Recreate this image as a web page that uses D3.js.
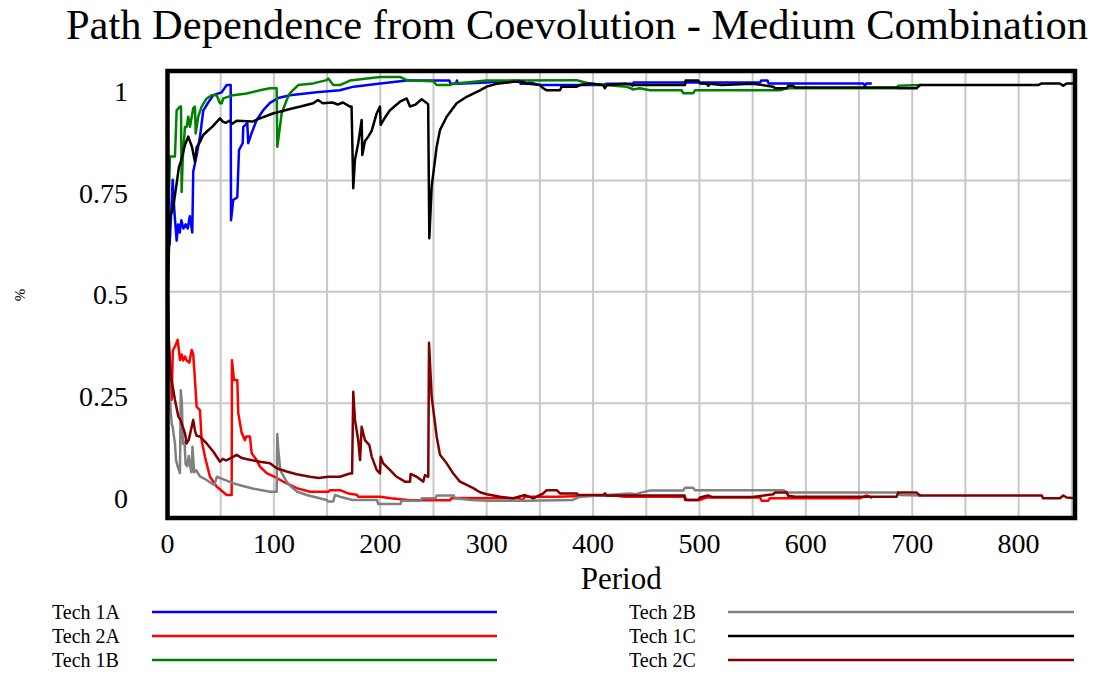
<!DOCTYPE html>
<html>
<head>
<meta charset="utf-8">
<script src="https://cdn.jsdelivr.net/npm/d3@7"></script>
<style>
  html, body { margin: 0; padding: 0; background: #fff; }
  svg { display: block; font-family: "Liberation Serif", "Times New Roman", serif; }
</style>
</head>
<body>
<svg id="chart" width="1094" height="677"></svg>
<script>
// Share of each technology per period, as [period, share] pairs.
const tech1A = [[0,0.50],[1,0.69],[2,0.62],[3.5,0.70],[4.9,0.78],[6.5,0.70],[8.6,0.63],[10,0.67],[11.5,0.65],[13,0.68],[15,0.66],[17,0.67],[19,0.66],[21,0.69],[23.3,0.65],[24.2,0.80],[27.4,0.84],[30.5,0.885],[33.6,0.95],[38.3,0.97],[43,0.988],[50.9,0.995],[55.6,1.013],[59.4,1.013],[59.7,0.68],[61.8,0.73],[65.6,0.737],[67.2,0.853],[70.7,0.87],[71.2,0.91],[75,0.919],[75.9,0.87],[79.1,0.895],[83.8,0.927],[90,0.951],[96.3,0.969],[104.1,0.981],[115.1,0.988],[140,0.995],[162,1.0],[175,1.009],[200,1.017],[225,1.024],[265,1.024],[266,1.016],[271,1.016],[272,1.024],[273,1.016],[300,1.019],[330,1.024],[332,1.016],[338,1.016],[340,1.019],[350,1.013],[410,1.013],[412,1.016],[436,1.016],[437,1.011],[438,1.019],[557,1.019],[558,1.024],[564,1.024],[565,1.017],[654,1.017],[655.5,1.011],[657,1.017],[662,1.017]];
const tech2A = [[0,0.50],[0.5,0.40],[1.5,0.33],[3.9,0.238],[5,0.36],[7,0.369],[9.6,0.386],[11.7,0.336],[13.3,0.35],[14.8,0.335],[16.5,0.345],[18,0.335],[20.5,0.33],[22.7,0.361],[24.2,0.35],[25.8,0.287],[27.4,0.221],[30.5,0.213],[32.1,0.139],[35.2,0.098],[39.9,0.049],[46.2,0.025],[55.6,0.004],[60.3,0.004],[60.6,0.336],[62.5,0.287],[65.6,0.287],[66.5,0.206],[69.7,0.157],[72.8,0.139],[74,0.148],[77.5,0.148],[79.1,0.107],[83.8,0.09],[86.9,0.074],[93.2,0.058],[102.6,0.046],[108.8,0.037],[121.4,0.021],[133.9,0.012],[151.1,0.012],[152.7,0.016],[162.1,0.016],[171,0.007],[177.8,0.005],[179.3,0.0],[199.7,0.0],[210,-0.004],[228,-0.009],[265.5,-0.009],[267.1,-0.003],[300,-0.004],[331,-0.004],[333,-0.01],[336,0.0],[365,0.0],[400,0.002],[420,0.003],[430,0.0],[486,0.0],[488,-0.008],[500.5,-0.008],[506.8,-0.002],[556.9,-0.002],[558.5,-0.01],[564.7,-0.01],[566,-0.004],[650.8,-0.004],[657.1,0.003],[662.4,-0.003]];
const tech1B = [[0,0.50],[0.8,0.693],[2.3,0.837],[7,0.837],[8.6,0.951],[11.7,0.96],[12.7,0.96],[13.3,0.75],[14.3,0.83],[16.4,0.91],[18,0.91],[19.5,0.935],[21.1,0.91],[24.2,0.956],[25.8,0.96],[26.5,0.894],[28.9,0.935],[32.1,0.96],[36.8,0.98],[41.5,0.988],[46.2,0.988],[49.3,0.968],[51,0.968],[52.4,0.98],[61.8,0.988],[74.4,0.992],[86.9,1.0],[96.3,1.005],[102.6,1.005],[103.2,0.861],[105.7,0.91],[107.3,0.943],[112,0.976],[115.1,0.993],[122.9,1.013],[137,1.017],[149.6,1.025],[151.1,1.029],[155.8,1.013],[162,1.013],[171.5,1.024],[199.7,1.033],[218.5,1.033],[224.8,1.025],[249.8,1.022],[253,1.013],[265.5,1.013],[268,1.016],[300,1.024],[384.6,1.025],[390,1.021],[397.1,1.016],[431.6,1.009],[437.8,1.002],[444,1.005],[453.5,1.0],[483.3,1.0],[484.8,0.993],[494.2,0.993],[495.8,1.0],[575.7,1.0],[582,1.005],[685.3,1.005],[686.9,1.011],[708.8,1.013]];
const tech2B = [[0,0.50],[0.5,0.33],[2,0.25],[3.9,0.18],[5,0.17],[7,0.13],[8,0.09],[9.5,0.075],[11.7,0.058],[12.5,0.262],[13.5,0.23],[14.5,0.13],[16,0.135],[17,0.08],[18.5,0.075],[20,0.10],[21,0.08],[22.5,0.06],[23.5,0.123],[25,0.06],[27,0.065],[30.5,0.05],[35,0.044],[40,0.035],[44,0.029],[46.5,0.049],[55,0.04],[61.8,0.033],[70,0.027],[80,0.02],[90,0.015],[96.3,0.012],[102.6,0.012],[103.2,0.154],[104,0.12],[106,0.065],[112,0.037],[116,0.025],[122,0.012],[130.8,0.004],[149.6,-0.008],[151.1,-0.012],[155.8,-0.012],[157.4,0.004],[162,0.0],[174,-0.008],[197,-0.008],[198,-0.018],[219,-0.018],[220,-0.01],[238,-0.01],[239,-0.004],[252,-0.004],[253,0.003],[269,0.003],[270,-0.004],[285,-0.008],[300,-0.01],[337,-0.01],[381,-0.008],[388,0.0],[413,0.004],[434.7,0.008],[440,0.006],[445,0.01],[453.5,0.015],[484.8,0.015],[486.4,0.022],[494,0.022],[495.8,0.016],[578.8,0.016],[583.5,0.01],[686.9,0.01],[688.3,0.004],[708.8,0.003]];
const tech1C = [[0,0.50],[0.8,0.558],[2.3,0.69],[5,0.705],[8.6,0.771],[10.8,0.812],[12,0.82],[16.4,0.865],[19.5,0.886],[21,0.875],[23,0.861],[25.8,0.824],[27.4,0.86],[30.5,0.873],[33.6,0.89],[36.8,0.898],[42,0.91],[49.3,0.931],[52,0.923],[55,0.92],[58,0.925],[61,0.918],[65,0.925],[80,0.923],[86.9,0.931],[99,0.943],[118,0.956],[125,0.96],[137,0.968],[141.4,0.976],[146,0.968],[155,0.97],[160,0.965],[165,0.97],[171.5,0.96],[173,0.96],[174.6,0.759],[176.2,0.829],[179.3,0.87],[182.5,0.927],[183.1,0.841],[185.6,0.875],[188.7,0.886],[191.9,0.9],[196.6,0.943],[199.7,0.96],[200.4,0.915],[204.4,0.933],[209.1,0.951],[218.5,0.972],[224.8,0.98],[227.9,0.96],[232.6,0.964],[238.9,0.978],[242,0.972],[245,0.966],[246.1,0.636],[248.3,0.763],[253,0.861],[256.1,0.902],[262.4,0.935],[271.8,0.968],[281.2,0.984],[287.4,0.992],[293.7,1.0],[300,1.009],[309.4,1.016],[325,1.021],[334.4,1.021],[337.6,1.017],[350.1,1.013],[353.2,1.005],[356.4,1.0],[368.9,1.0],[370.5,1.009],[384.6,1.009],[387.7,1.013],[397.1,1.017],[409.6,1.013],[411,1.005],[413,1.013],[430,1.016],[437.8,1.013],[486.4,1.013],[487,1.024],[498.9,1.024],[500.5,1.017],[506.8,1.016],[508.3,1.011],[509.9,1.016],[520.9,1.013],[550.6,1.016],[569.4,1.009],[571,1.005],[582,1.005],[583.5,1.011],[588.2,1.011],[589.8,1.007],[685.3,1.007],[686.9,1.005],[704.1,1.005],[707.2,1.013],[818.4,1.013],[821.6,1.017],[838.8,1.017],[842,1.011],[845.1,1.017],[853,1.017]];
const tech2C = [[0,0.50],[0.5,0.49],[1,0.40],[3,0.30],[7,0.238],[10.2,0.197],[12,0.19],[16.4,0.156],[18,0.131],[20,0.14],[24.2,0.189],[26,0.16],[27.4,0.15],[30.5,0.148],[36.8,0.131],[43,0.111],[49.3,0.086],[52,0.093],[55,0.089],[58,0.093],[65,0.103],[70,0.095],[75,0.092],[86.9,0.086],[96.3,0.082],[102.6,0.07],[112,0.062],[121.4,0.055],[133.9,0.049],[142,0.046],[151.1,0.049],[162,0.049],[171.5,0.057],[173.5,0.057],[174.6,0.258],[176.2,0.189],[179.3,0.139],[181,0.09],[182.5,0.172],[185.6,0.139],[189.7,0.127],[192,0.098],[196.6,0.066],[199.7,0.057],[200.4,0.098],[202.8,0.082],[209,0.066],[215.4,0.049],[223.2,0.037],[228,0.037],[228.5,0.056],[234.2,0.049],[240.4,0.037],[242,0.053],[245.1,0.049],[245.8,0.379],[248.3,0.246],[253,0.148],[256.1,0.103],[262.4,0.082],[268.6,0.057],[274.9,0.037],[281.2,0.029],[287.4,0.021],[293.7,0.011],[300,0.006],[312.5,0.0],[325,-0.004],[336,0.004],[343.8,-0.004],[353.2,0.008],[356.4,0.016],[365.8,0.016],[368.9,0.008],[384.6,0.008],[386,0.004],[409.6,0.004],[411.2,0.008],[412.8,0.003],[486,0.003],[486.4,-0.008],[498.9,-0.008],[500.5,-0.002],[508,0.003],[512,-0.001],[550,-0.001],[569.4,0.006],[571,0.01],[582,0.01],[583.5,0.002],[590,0.0],[685.3,0.0],[686.9,0.01],[704.1,0.01],[707.2,0.003],[821.6,0.003],[823.1,-0.004],[838.8,-0.004],[842,0.003],[845.1,-0.002],[853,-0.004]];

const seriesNames = ["Tech 1A", "Tech 2A", "Tech 1B", "Tech 2B", "Tech 1C", "Tech 2C"];
const seriesColors = ["#0000ff", "#ff0000", "#008000", "#808080", "#000000", "#800000"];
const seriesData = [tech1A, tech2A, tech1B, tech2B, tech1C, tech2C];

const periodTicks = [0, 100, 200, 300, 400, 500, 600, 700, 800];
const periodGrid = d3.range(50, 851, 50);
const shareTicks = [0, 0.25, 0.5, 0.75, 1];
const shareTickLabels = ["0", "0.25", "0.5", "0.75", "1"];
const shareGrid = [0.23, 0.504, 0.778];

const titleText = "Path Dependence from Coevolution - Medium Combination";
const xTitle = "Period";
const yTitle = "%";

// Layout
const plot = { left: 167.5, right: 1075, top: 71, bottom: 518 };

const svg = d3.select("#chart");

const x = d3.scaleLinear().domain([0, 853]).range([plot.left, plot.right]);
const y = d3.scaleLinear().domain([-0.0525, 1.0475]).range([plot.bottom, plot.top]);

// Title
svg.append("text")
  .attr("x", 577).attr("y", 39)
  .attr("text-anchor", "middle")
  .attr("font-size", 42.5)
  .attr("fill", "#000")
  .text(titleText);

// Grid
const grid = svg.append("g").attr("stroke", "#c8c8c8").attr("stroke-width", 2);
grid.selectAll("line.v").data(periodGrid).join("line")
  .attr("class", "v")
  .attr("x1", d => x(d)).attr("x2", d => x(d))
  .attr("y1", plot.top).attr("y2", plot.bottom);
grid.selectAll("line.h").data(shareGrid).join("line")
  .attr("class", "h")
  .attr("x1", plot.left).attr("x2", plot.right)
  .attr("y1", d => y(d)).attr("y2", d => y(d));

// Series lines
const line = d3.line().x(d => x(d[0])).y(d => y(d[1]));
const clipId = "plot-clip";
svg.append("clipPath").attr("id", clipId)
  .append("rect")
  .attr("x", plot.left).attr("y", plot.top)
  .attr("width", plot.right - plot.left).attr("height", plot.bottom - plot.top);

svg.append("g").attr("clip-path", `url(#${clipId})`)
  .selectAll("path").data(seriesData).join("path")
  .attr("d", d => line(d))
  .attr("fill", "none")
  .attr("stroke", (d, i) => seriesColors[i])
  .attr("stroke-width", 2.5)
  .attr("stroke-linejoin", "round");

// Frame
svg.append("rect")
  .attr("x", plot.left).attr("y", plot.top)
  .attr("width", plot.right - plot.left).attr("height", plot.bottom - plot.top)
  .attr("fill", "none").attr("stroke", "#000").attr("stroke-width", 4.5);

// Axis labels
svg.append("g").selectAll("text").data(periodTicks).join("text")
  .attr("x", d => x(d)).attr("y", 553)
  .attr("text-anchor", "middle")
  .attr("font-size", 28)
  .text(d => d);

svg.append("g").selectAll("text").data(shareTicks).join("text")
  .attr("x", 128).attr("y", d => y(d) + 11)
  .attr("text-anchor", "end")
  .attr("font-size", 28)
  .text((d, i) => shareTickLabels[i]);

svg.append("text")
  .attr("x", (plot.left + plot.right) / 2).attr("y", 589)
  .attr("text-anchor", "middle")
  .attr("font-size", 31)
  .text(xTitle);

svg.append("text")
  .attr("transform", "translate(25,295) rotate(-90)")
  .attr("text-anchor", "middle")
  .attr("font-size", 15)
  .text(yTitle);

// Legend: two columns of three entries
const legend = svg.append("g");
const legendCols = [{ tx: 52, x1: 152, x2: 497 }, { tx: 629, x1: 728, x2: 1074 }];
const legendRows = [612, 636, 660];
seriesNames.forEach((name, i) => {
  const col = legendCols[Math.floor(i / 3)];
  const ry = legendRows[i % 3];
  legend.append("text")
    .attr("x", col.tx).attr("y", ry + 7)
    .attr("font-size", 20)
    .text(name);
  legend.append("line")
    .attr("x1", col.x1).attr("x2", col.x2)
    .attr("y1", ry).attr("y2", ry)
    .attr("stroke", seriesColors[i])
    .attr("stroke-width", 2.5);
});
</script>
</body>
</html>
